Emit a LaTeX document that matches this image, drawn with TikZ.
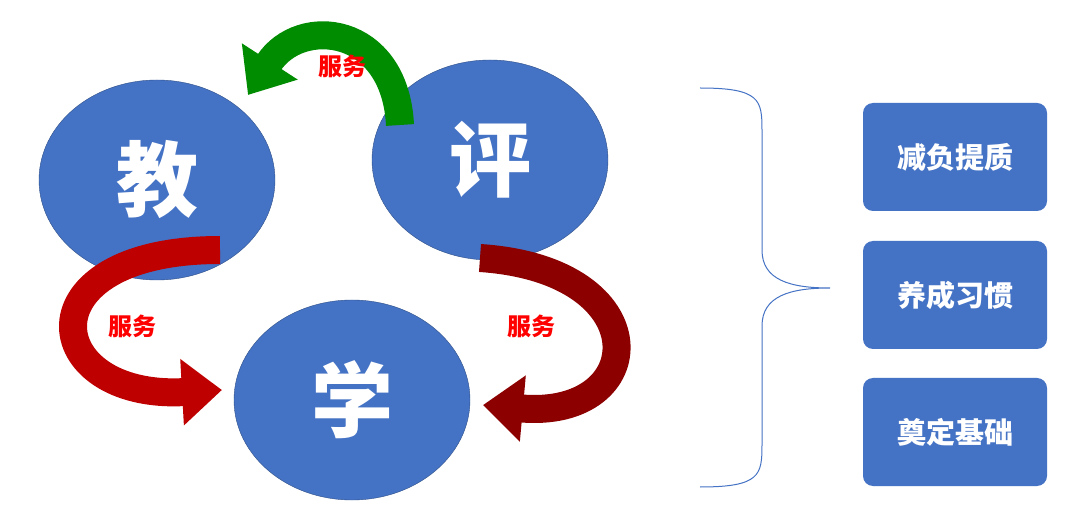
\documentclass[tikz,border=0pt]{standalone}
\usepackage{fontspec}
\newfontfamily\cjk{Noto Sans CJK SC}
\usetikzlibrary{arrows.meta,shapes.geometric}
\definecolor{bl}{HTML}{4472C4}
\begin{document}
\begin{tikzpicture}[x=1pt,y=-1pt,
 circ/.style={ellipse,fill=bl,draw=bl!70!black,minimum width=236pt,minimum height=200pt,text=white,font=\cjk\bfseries\fontsize{82}{82}\selectfont},
 box/.style={rounded corners=10pt,fill=bl,minimum width=184pt,minimum height=108pt,text=white,font=\cjk\bfseries\fontsize{29}{29}\selectfont},
 lab/.style={text=red,font=\cjk\bfseries\fontsize{24}{24}\selectfont},
 arr/.style={line width=28pt,-{Triangle[length=40pt,width=64pt]}}]
\useasboundingbox (0,0) rectangle (1080,521);
\fill[white] (0,0) rectangle (1080,521);
\node[circ] (jiao) at (157,180) {教};
\node[circ] (ping) at (490,160) {评};
\node[circ] (xue) at (352,400) {学};
\coordinate (g1) at (400,125);
\coordinate (r1) at (220,250);
\coordinate (d1) at (480,258);
\draw[arr,draw=green!55!black] (g1) .. controls (395,25) and (300,15) .. (248,95);
\draw[arr,draw=red!75!black] (r1) .. controls (20,250) and (40,400) .. (222,390);
\draw[arr,draw=red!55!black] (d1) .. controls (660,270) and (650,420) .. (483,405);
\node[lab] (l1) at (342,66) {服务};
\node[lab] (l2) at (132,326) {服务};
\node[lab] (l3) at (531,326) {服务};
\node[box] (b1) at (955,157) {减负提质};
\node[box] (b2) at (955,295) {养成习惯};
\node[box] (b3) at (955,432) {奠定基础};
\coordinate (bt) at (700,88);
\coordinate (bb) at (700,487);
\coordinate (bm) at (830,288);
\draw[bl,line width=1pt] (bt) .. controls (760,88) and (762,100) .. (762,130) -- (762,250) .. controls (762,280) and (790,288) .. (bm)
 .. controls (790,288) and (762,296) .. (762,326) -- (762,445) .. controls (762,475) and (760,487) .. (bb);
\end{tikzpicture}
\end{document}
